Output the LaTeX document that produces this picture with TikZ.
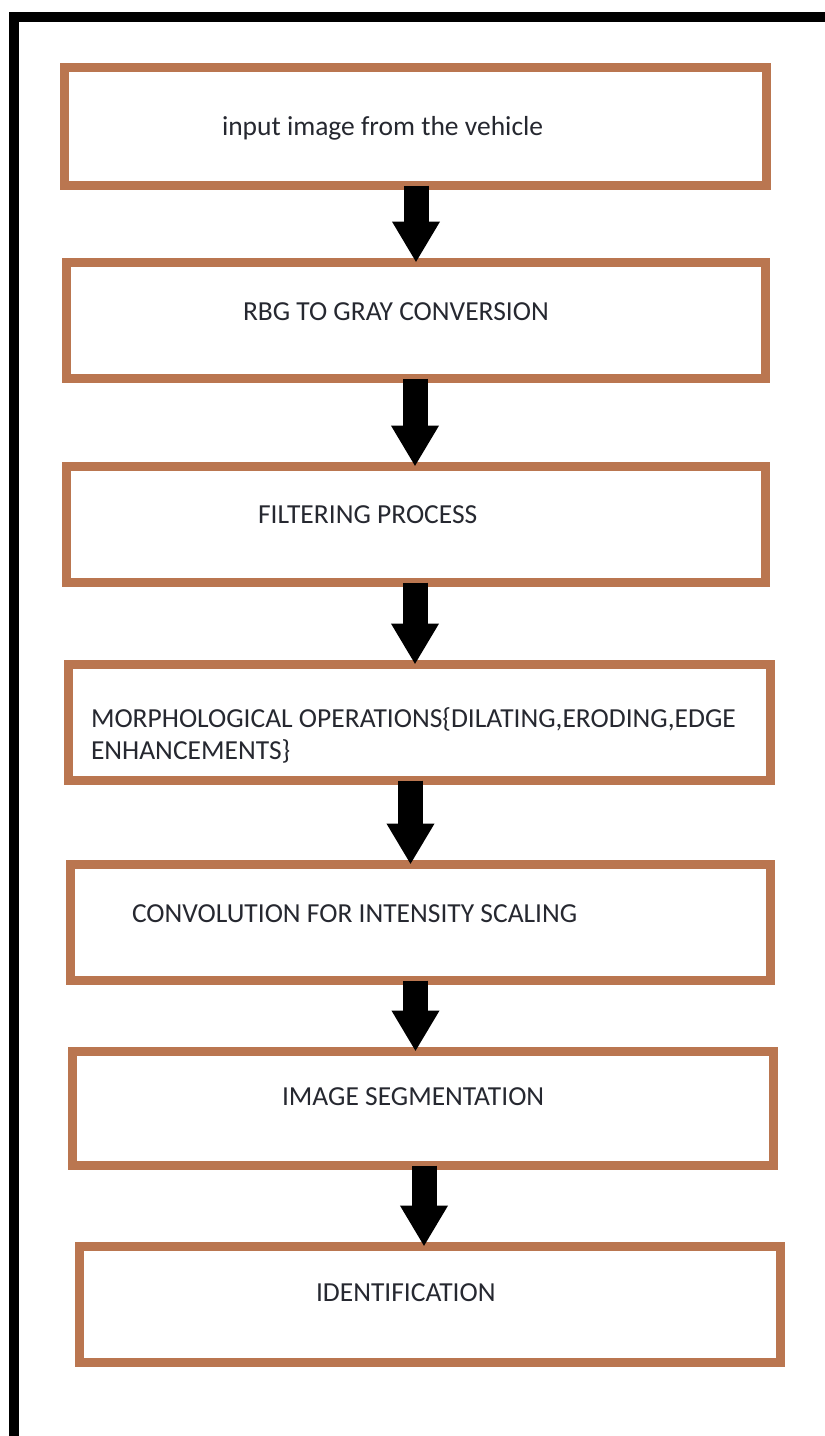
\documentclass[tikz,border=0pt]{standalone}
\usepackage{fontspec}
\setmainfont{Carlito}
\usetikzlibrary{arrows.meta}
\definecolor{boxbrown}{RGB}{186,118,80}
\definecolor{txtcol}{RGB}{38,40,48}
\begin{document}
\begin{tikzpicture}[x=1pt,y=-1pt,
  stepbox/.style={draw=boxbrown, line width=9pt, fill=white, inner sep=0pt, outer sep=0pt},
  steptext/.style={anchor=base west, inner sep=0pt, outer sep=0pt, text=txtcol,
    font=\fontsize{27.5}{32}\selectfont},
  blkarrow/.style={draw=black, line width=25pt, -{Triangle[width=45pt,length=41pt]}}]
\useasboundingbox (0,0) rectangle (825,1436);
\fill[white] (0,0) rectangle (825,1436);
% outer frame
\draw[line width=10pt] (825,17) -- (14,17) -- (14,1436);
% boxes
\node[stepbox, minimum width=702pt, minimum height=118pt] (b1) at (415.5,126.5) {};
\node[stepbox, minimum width=699pt, minimum height=116pt] (b2) at (416,320.5) {};
\node[stepbox, minimum width=699pt, minimum height=116pt] (b3) at (416,524.5) {};
\node[stepbox, minimum width=702pt, minimum height=116pt] (b4) at (419.5,722.5) {};
\node[stepbox, minimum width=700pt, minimum height=116pt] (b5) at (420.5,922.5) {};
\node[stepbox, minimum width=701pt, minimum height=114pt] (b6) at (423,1108.5) {};
\node[stepbox, minimum width=701pt, minimum height=116pt] (b7) at (430,1304.5) {};
% texts
\node[steptext] (t1) at (222,135) {input image from the vehicle};
\node[steptext] (t2) at (243,320) {RBG TO GRAY CONVERSION};
\node[steptext] (t3) at (258,523) {FILTERING PROCESS};
\node[steptext] (t4a) at (91,727) {MORPHOLOGICAL OPERATIONS\{DILATING,ERODING,EDGE};
\node[steptext] (t4b) at (91,759) {ENHANCEMENTS\}};
\node[steptext] (t5) at (132,922) {CONVOLUTION FOR INTENSITY SCALING};
\node[steptext] (t6) at (282,1105) {IMAGE SEGMENTATION};
\node[steptext] (t7) at (316,1301) {IDENTIFICATION};
% arrows
\draw[blkarrow] ([xshift=0.5pt]b1.south) -- ([xshift=0.5pt]b1.south |- b2.north);
\draw[blkarrow] ([xshift=-1pt]b2.south) -- ([xshift=-1pt]b2.south |- b3.north);
\draw[blkarrow] ([xshift=-1pt]b3.south) -- ([xshift=-1pt]b3.south |- b4.north);
\draw[blkarrow] ([xshift=-9pt]b4.south) -- ([xshift=-9pt]b4.south |- b5.north);
\draw[blkarrow] ([xshift=-5pt]b5.south) -- ([xshift=-5pt]b5.south |- b6.north);
\draw[blkarrow] ([xshift=1pt]b6.south) -- ([xshift=1pt]b6.south |- b7.north);
\end{tikzpicture}
\end{document}
